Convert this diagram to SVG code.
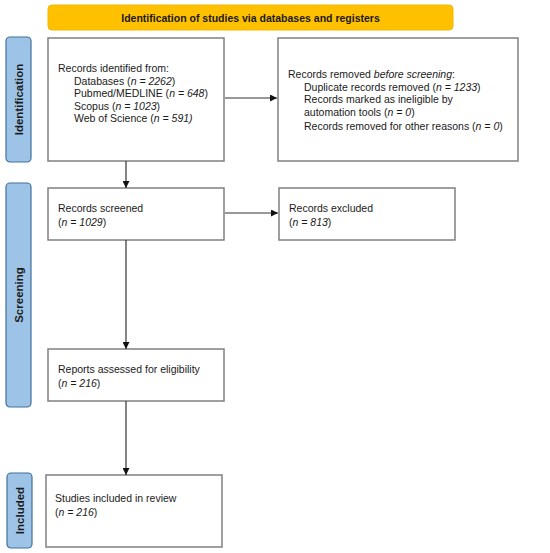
<svg xmlns="http://www.w3.org/2000/svg" width="550" height="553" viewBox="0 0 550 553">
<defs>
<style>
text{font-family:"Liberation Sans",Arial,sans-serif;fill:#1a1a1a}
.t{font-size:10.5px}
.b{font-size:10.5px;font-weight:bold}
.side{font-size:11.5px;font-weight:bold}
.box{fill:#fff;stroke:#808080;stroke-width:1.5}
.lane{fill:#9DC3E6;stroke:#41719C;stroke-width:1.2}
.conn{stroke:#333;stroke-width:1.2;fill:none;marker-end:url(#ah)}
</style>
<marker id="ah" viewBox="0 0 10 10" refX="10" refY="5" markerWidth="7" markerHeight="7" markerUnits="userSpaceOnUse" orient="auto">
<path d="M0,0 L10,5 L0,10 z" fill="#111"/>
</marker>
</defs>
<rect width="550" height="553" fill="#fff"/>

<g id="banner">
<rect x="48" y="5" width="405" height="25" rx="4" fill="#FFC000" stroke="#F2B800" stroke-width="1"/>
<text class="b" x="250.5" y="21.5" text-anchor="middle">Identification of studies via databases and registers</text>
</g>

<g id="lane-identification">
<rect class="lane" x="6" y="37" width="25" height="125" rx="4"/>
<text class="side" transform="translate(22.5,99.5) rotate(-90)" text-anchor="middle">Identification</text>
</g>
<g id="lane-screening">
<rect class="lane" x="6" y="183" width="25" height="224" rx="4"/>
<text class="side" transform="translate(22.5,295) rotate(-90)" text-anchor="middle">Screening</text>
</g>
<g id="lane-included">
<rect class="lane" x="7" y="473" width="25" height="75" rx="4"/>
<text class="side" transform="translate(23.5,510.5) rotate(-90)" text-anchor="middle">Included</text>
</g>

<g id="records-identified">
<rect class="box" x="48" y="38" width="176" height="123"/>
<text class="t" x="58" y="72">Records identified from:</text>
<text class="t" x="74" y="84.5">Databases (<tspan font-style="italic">n = 2262</tspan>)</text>
<text class="t" x="74" y="97">Pubmed/MEDLINE (<tspan font-style="italic">n = 648</tspan>)</text>
<text class="t" x="74" y="109.5">Scopus (<tspan font-style="italic">n = 1023</tspan>)</text>
<text class="t" x="74" y="122">Web of Science (<tspan font-style="italic">n = 591)</tspan></text>
</g>

<g id="records-removed">
<rect class="box" x="278" y="38" width="240" height="123"/>
<text class="t" x="288" y="78">Records removed <tspan font-style="italic">before screening</tspan>:</text>
<text class="t" x="304" y="90.5">Duplicate records removed (<tspan font-style="italic">n = 1233</tspan>)</text>
<text class="t" x="304" y="103">Records marked as ineligible by</text>
<text class="t" x="304" y="116">automation tools (<tspan font-style="italic">n = 0</tspan>)</text>
<text class="t" x="304" y="130">Records removed for other reasons (<tspan font-style="italic">n = 0</tspan>)</text>
</g>

<g id="records-screened">
<rect class="box" x="48" y="188" width="176" height="52"/>
<text class="t" x="58" y="211.5">Records screened</text>
<text class="t" x="58" y="225.5">(<tspan font-style="italic">n = 1029</tspan>)</text>
</g>

<g id="records-excluded">
<rect class="box" x="279" y="188" width="176" height="52"/>
<text class="t" x="289" y="211.5">Records excluded</text>
<text class="t" x="289" y="225.5">(<tspan font-style="italic">n = 813</tspan>)</text>
</g>

<g id="reports-assessed">
<rect class="box" x="48" y="349" width="176" height="52"/>
<text class="t" x="58" y="372.5">Reports assessed for eligibility</text>
<text class="t" x="58" y="386.5">(<tspan font-style="italic">n = 216</tspan>)</text>
</g>

<g id="studies-included">
<rect class="box" x="46" y="475" width="176" height="72"/>
<text class="t" x="55" y="502">Studies included in review</text>
<text class="t" x="55" y="516">(<tspan font-style="italic">n = 216</tspan>)</text>
</g>

<g id="connectors">
<line class="conn" x1="225" y1="98" x2="277" y2="98"/>
<line class="conn" x1="126" y1="161" x2="126" y2="188"/>
<line class="conn" x1="225" y1="213" x2="278" y2="213"/>
<line class="conn" x1="126" y1="240" x2="126" y2="349"/>
<line class="conn" x1="126" y1="401" x2="126" y2="475"/>
</g>
</svg>
